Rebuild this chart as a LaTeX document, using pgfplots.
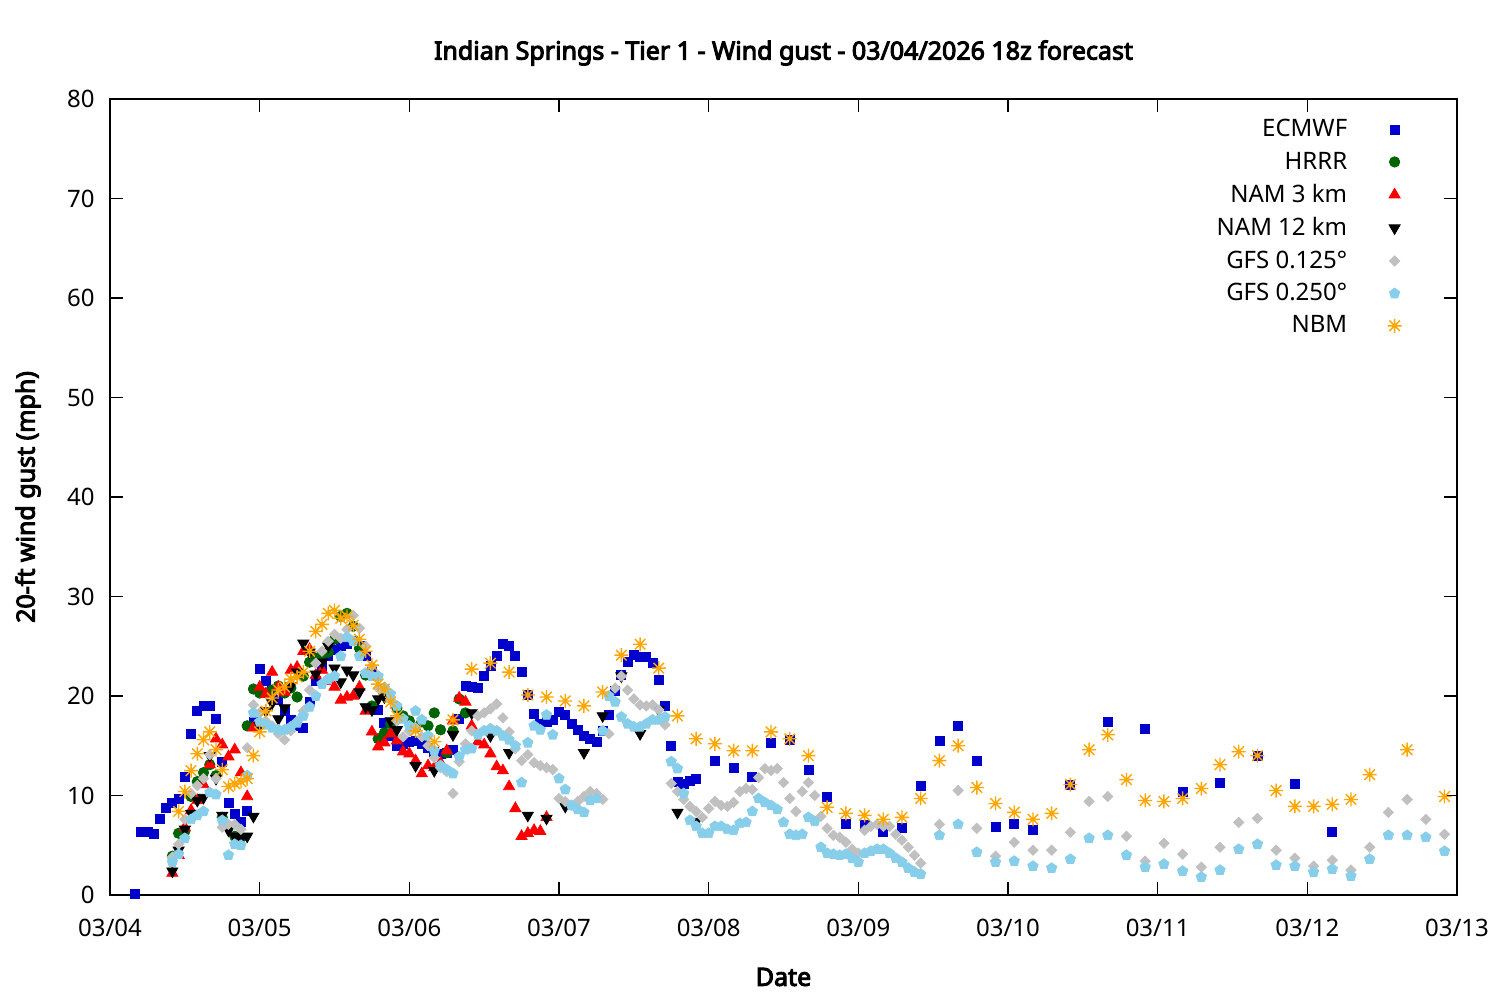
\documentclass[border=0pt]{standalone}
\usepackage{pgfplots}
\pgfplotsset{compat=1.18}
\usepackage{fontspec}
\setmainfont{Noto Sans}[AutoFakeBold=4]
\usetikzlibrary{plotmarks}

\definecolor{ecmwf}{RGB}{0,0,204}
\definecolor{hrrr}{RGB}{0,100,0}
\definecolor{namthree}{RGB}{255,0,0}
\definecolor{gfsa}{RGB}{192,192,192}
\definecolor{gfsb}{RGB}{135,206,235}
\definecolor{nbm}{RGB}{255,165,0}

% gnuplot-style star: + and x together
\pgfdeclareplotmark{gpstar}{%
  \pgfpathmoveto{\pgfqpoint{-\pgfplotmarksize}{0pt}}%
  \pgfpathlineto{\pgfqpoint{\pgfplotmarksize}{0pt}}%
  \pgfpathmoveto{\pgfqpoint{0pt}{-\pgfplotmarksize}}%
  \pgfpathlineto{\pgfqpoint{0pt}{\pgfplotmarksize}}%
  \pgfpathmoveto{\pgfqpoint{-.75\pgfplotmarksize}{-.75\pgfplotmarksize}}%
  \pgfpathlineto{\pgfqpoint{.75\pgfplotmarksize}{.75\pgfplotmarksize}}%
  \pgfpathmoveto{\pgfqpoint{-.75\pgfplotmarksize}{.75\pgfplotmarksize}}%
  \pgfpathlineto{\pgfqpoint{.75\pgfplotmarksize}{-.75\pgfplotmarksize}}%
  \pgfusepathqstroke}

\newcommand{\chartfont}{\fontsize{12}{14}\selectfont}
\newcommand{\labelfont}{\fontsize{12.5}{14}\selectfont\bfseries}

\begin{document}
\begin{tikzpicture}
\useasboundingbox (-55pt,-52.5pt) rectangle (695pt,447.5pt);
\begin{axis}[
    at={(0,0)}, anchor=south west,
    scale only axis, width=673.5pt, height=398pt,
    xmin=0, xmax=216, ymin=0, ymax=80,
    xtick={0,24,...,216},
    xticklabels={03/04,03/05,03/06,03/07,03/08,03/09,03/10,03/11,03/12,03/13},
    ytick={0,10,...,80},
    tick align=inside, major tick length=6.5pt,
    axis line style={line width=0.6pt}, every tick/.style={black, line width=0.6pt},
    /pgf/number format/assume math mode=true,
    ticklabel style={font=\chartfont},
    xticklabel style={anchor=center, yshift=-16.5pt, inner sep=0pt},
    yticklabel style={anchor=east, xshift=-7.5pt, inner sep=0pt},
    legend style={draw=none, fill=none, font=\chartfont, at={(1,1)},
      anchor=north east, xshift=-24.5pt, yshift=-6pt, row sep=2.05pt},
    legend cell align=right, legend plot pos=right,
    legend image code/.code={\path (0pt,0pt) (21.5pt,0pt);
      \draw[#1] plot coordinates {(21.5pt,0pt)};},
    only marks,
]
\addplot[mark=square*, mark size=2.25pt, color=ecmwf] coordinates {
(4,0.1) (5,6.3) (6,6.3) (7,6.1) (8,7.6) (9,8.8) (10,9.3) (11,9.7) (12,11.9) (13,16.2) (14,18.5) (15,19.0) (16,19.0) (17,17.7) (18,13.4) (19,9.3) (20,8.1) (21,7.3) (22,8.5) (23,17.4) (24,22.7) (25,21.5) (26,20.5) (27,19.6) (28,18.5) (29,17.6) (30,17.0) (31,16.8) (32,19.4) (33,21.5) (34,23.0) (35,24.0) (36,24.6) (37,25.0) (38,25.2) (39,25.5) (40,25.0) (41,24.0) (42,22.6) (43,18.6) (44,17.3) (45,16.0) (46,15.0) (47,15.2) (48,15.4) (49,15.5) (50,15.2) (51,14.8) (52,14.4) (53,14.2) (54,14.3) (55,14.6) (56,17.7) (57,21.0) (58,20.9) (59,20.8) (60,22.0) (61,23.0) (62,24.0) (63,25.2) (64,25.0) (65,24.0) (66,22.4) (67,20.1) (68,18.2) (69,17.2) (70,17.4) (71,17.6) (72,18.4) (73,18.1) (74,17.2) (75,16.6) (76,16.0) (77,15.7) (78,15.4) (79,16.5) (80,18.1) (81,20.5) (82,22.1) (83,23.4) (84,24.1) (85,23.9) (86,23.9) (87,23.3) (88,21.6) (89,19.0) (90,15.0) (91,11.4) (92,11.2) (93,11.5) (94,11.7) (97,13.5) (100,12.8) (103,11.9) (106,15.3) (109,15.6) (112,12.6) (115,9.9) (118,7.1) (121,7.0) (124,6.3) (127,6.7) (130,11.0) (133,15.5) (136,17.0) (139,13.5) (142,6.8) (145,7.1) (148,6.5) (154,11.1) (160,17.4) (166,16.7) (172,10.4) (178,11.3) (184,14.0) (190,11.2) (196,6.3)
};
\addlegendentry{ECMWF}
\addplot[mark=*, mark size=2.6pt, color=hrrr] coordinates {
(10,3.9) (11,6.2) (12,6.4) (13,9.9) (14,11.4) (15,12.3) (16,13.1) (17,12.0) (18,7.8) (19,6.9) (20,5.9) (21,5.8) (22,17.0) (23,20.7) (24,20.3) (25,20.3) (26,20.6) (27,21.0) (28,20.3) (29,20.8) (30,19.9) (31,22.0) (32,23.4) (33,23.8) (34,24.2) (35,24.4) (36,25.7) (37,28.0) (38,28.3) (39,27.0) (40,24.8) (41,22.1) (42,19.0) (43,15.7) (44,16.3) (45,17.2) (46,18.8) (47,18.0) (48,17.5) (49,16.8) (50,17.4) (51,17.0) (52,18.3) (53,16.6) (54,14.3) (55,16.5) (56,19.7) (57,18.3)
};
\addlegendentry{HRRR}
\addplot[mark=triangle*, mark size=3.2pt, color=namthree] coordinates {
(10,2.2) (11,4.0) (12,6.8) (13,8.5) (14,9.5) (15,11.1) (16,13.1) (17,15.7) (18,15.1) (19,13.9) (20,14.6) (21,12.3) (22,9.9) (23,16.8) (24,20.9) (25,20.2) (26,22.4) (27,20.9) (28,20.4) (29,22.6) (30,22.9) (31,24.5) (32,24.7) (33,22.1) (34,22.6) (35,21.5) (36,20.9) (37,19.6) (38,19.9) (39,20.0) (40,20.9) (41,18.5) (42,16.4) (43,14.9) (44,15.3) (45,16.2) (46,15.5) (47,14.4) (48,14.2) (49,13.5) (50,12.2) (51,13.0) (52,12.8) (53,13.3) (54,14.5) (55,17.5) (56,19.8) (57,19.4) (58,17.0) (59,15.4) (60,15.1) (61,14.2) (62,12.9) (63,12.5) (64,10.9) (65,8.7) (66,5.9) (67,6.2) (68,6.5) (69,6.4) (70,7.8)
};
\addlegendentry{NAM 3 km}
\addplot[mark=triangle*, mark size=3.2pt, mark options={rotate=180}, color=black] coordinates {
(10,2.4) (11,4.5) (12,6.6) (13,8.2) (14,9.5) (15,9.8) (16,14.0) (17,11.7) (18,8.0) (19,6.5) (20,5.9) (21,5.7) (22,5.9) (23,7.9) (24,17.0) (25,18.5) (26,19.3) (27,17.7) (28,18.8) (29,21.0) (30,22.4) (31,25.3) (32,24.4) (33,22.2) (34,23.4) (35,25.0) (36,22.8) (37,21.4) (38,22.6) (39,22.1) (40,20.4) (41,18.9) (42,18.6) (43,19.7) (44,19.9) (45,17.5) (46,16.6) (49,13.0) (52,12.5) (55,16.1) (58,18.3) (61,16.0) (64,14.3) (67,8.0) (70,7.7) (73,8.9) (76,14.3) (79,18.0) (82,22.0) (85,16.2) (88,18.6) (91,8.3) (94,7.4)
};
\addlegendentry{NAM 12 km}
\addplot[mark=square*, mark size=1.8pt, mark options={rotate=45}, color=gfsa] coordinates {
(10,3.8) (11,5.1) (12,7.6) (13,10.2) (14,11.0) (15,11.7) (16,14.1) (17,11.7) (18,6.8) (19,7.1) (20,7.1) (21,6.6) (22,14.8) (23,19.1) (24,18.3) (25,17.5) (26,17.0) (27,16.2) (28,15.6) (29,16.5) (30,17.5) (31,18.5) (32,20.6) (33,23.3) (34,24.5) (35,25.5) (36,26.2) (37,25.8) (38,26.7) (39,28.1) (40,26.8) (41,25.0) (42,23.0) (43,20.8) (44,20.9) (45,19.6) (46,17.5) (47,15.9) (48,16.5) (49,16.8) (50,15.9) (51,15.0) (52,13.8) (53,12.8) (54,12.4) (55,10.2) (56,13.4) (57,15.2) (58,16.5) (59,18.0) (60,18.3) (61,18.7) (62,19.2) (63,17.8) (64,16.4) (65,14.7) (66,13.5) (67,14.1) (68,13.3) (69,13.0) (70,12.8) (71,12.6) (72,9.7) (73,9.4) (74,9.0) (75,9.4) (76,9.9) (77,10.4) (78,10.2) (79,9.6) (80,16.2) (81,20.8) (82,22.0) (83,20.6) (84,19.7) (85,19.1) (86,19.0) (87,19.1) (88,18.6) (89,17.1) (90,11.2) (91,10.4) (92,9.6) (93,8.9) (94,8.4) (95,7.8) (96,8.7) (97,9.4) (98,9.0) (99,8.9) (100,9.3) (101,10.4) (102,10.7) (103,10.6) (104,11.8) (105,12.7) (106,12.5) (107,12.7) (108,11.3) (109,9.7) (110,8.4) (111,10.4) (112,11.3) (113,10.0) (114,7.9) (115,6.7) (116,6.0) (117,5.8) (118,5.3) (119,4.6) (120,4.2) (121,6.5) (122,6.9) (123,7.1) (124,6.9) (125,6.9) (126,6.1) (127,5.5) (128,4.8) (129,4.0) (130,3.2) (133,7.1) (136,10.5) (139,6.7) (142,3.9) (145,5.3) (148,4.5) (151,4.5) (154,6.3) (157,9.4) (160,9.9) (163,5.9) (166,3.4) (169,5.2) (172,4.1) (175,2.8) (178,4.8) (181,7.3) (184,7.7) (187,4.5) (190,3.7) (193,2.9) (196,3.5) (199,2.5) (202,4.8) (205,8.3) (208,9.6) (211,7.6) (214,6.1)
};
\addlegendentry{GFS 0.125°}
\addplot[mark=pentagon*, mark size=2.7pt, color=gfsb] coordinates {
(10,3.3) (11,4.1) (12,5.7) (13,7.6) (14,8.0) (15,8.4) (16,10.3) (17,10.1) (18,7.5) (19,4.0) (20,5.1) (21,5.0) (22,12.0) (23,18.3) (24,17.4) (25,17.1) (26,16.8) (27,16.6) (28,16.6) (29,16.9) (30,17.3) (31,18.0) (32,18.9) (33,20.0) (34,21.2) (35,21.7) (36,22.0) (37,24.0) (38,25.9) (39,25.5) (40,24.0) (41,22.3) (42,22.0) (43,22.0) (44,20.8) (45,20.2) (46,19.0) (47,17.7) (48,17.0) (49,18.5) (50,17.6) (51,16.0) (52,14.5) (53,13.0) (54,12.6) (55,12.2) (56,13.9) (57,14.6) (58,14.7) (59,16.1) (60,16.5) (61,16.7) (62,16.5) (63,16.0) (64,15.6) (65,15.0) (66,11.3) (67,15.3) (68,17.0) (69,16.6) (70,18.1) (71,16.1) (72,11.7) (73,10.6) (74,9.0) (75,8.6) (76,8.3) (77,9.5) (78,9.7) (79,16.5) (80,20.0) (81,19.4) (82,17.9) (83,17.2) (84,16.9) (85,16.9) (86,17.2) (87,17.6) (88,17.6) (89,17.9) (90,13.4) (91,12.7) (92,10.2) (93,7.5) (94,6.9) (95,6.2) (96,6.2) (97,6.9) (98,6.9) (99,6.6) (100,6.5) (101,7.2) (102,7.3) (103,8.4) (104,9.7) (105,9.3) (106,9.0) (107,8.6) (108,7.3) (109,6.1) (110,6.0) (111,6.1) (112,7.8) (113,7.4) (114,4.8) (115,4.2) (116,4.1) (117,4.0) (118,4.1) (119,3.7) (120,3.3) (121,4.2) (122,4.4) (123,4.6) (124,4.6) (125,4.2) (126,3.7) (127,3.3) (128,2.7) (129,2.3) (130,2.1) (133,6.0) (136,7.1) (139,4.3) (142,3.3) (145,3.4) (148,2.9) (151,2.7) (154,3.6) (157,5.7) (160,6.0) (163,4.0) (166,2.8) (169,3.1) (172,2.4) (175,1.8) (178,2.5) (181,4.6) (184,5.1) (187,3.0) (190,2.9) (193,2.3) (196,2.6) (199,1.9) (202,3.6) (205,6.0) (208,6.0) (211,5.8) (214,4.4)
};
\addlegendentry{GFS 0.250°}
\addplot[mark=gpstar, mark size=3.5pt, mark options={line width=0.7pt}, color=nbm] coordinates {
(11,8.4) (12,10.4) (13,12.5) (14,14.2) (15,15.6) (16,16.4) (17,14.6) (18,12.6) (19,10.9) (20,11.2) (21,11.4) (22,11.7) (23,14.0) (24,16.4) (25,18.5) (26,19.8) (27,20.6) (28,20.9) (29,21.7) (30,21.9) (31,22.4) (32,24.5) (33,26.5) (34,27.2) (35,28.3) (36,28.6) (37,27.8) (38,28.0) (39,27.1) (40,25.7) (41,24.5) (42,23.1) (43,21.2) (44,20.7) (45,19.4) (46,18.0) (49,16.5) (52,15.4) (55,17.6) (58,22.7) (61,23.3) (64,22.4) (67,20.1) (70,19.9) (73,19.5) (76,19.0) (79,20.4) (82,24.1) (85,25.2) (88,22.8) (91,18.0) (94,15.7) (97,15.2) (100,14.5) (103,14.5) (106,16.4) (109,15.7) (112,14.0) (115,8.8) (118,8.2) (121,8.0) (124,7.6) (127,7.8) (130,9.7) (133,13.5) (136,15.0) (139,10.8) (142,9.2) (145,8.3) (148,7.6) (151,8.2) (154,11.1) (157,14.6) (160,16.1) (163,11.6) (166,9.5) (169,9.4) (172,9.7) (175,10.7) (178,13.1) (181,14.4) (184,14.0) (187,10.5) (190,8.9) (193,8.9) (196,9.1) (199,9.6) (202,12.1) (208,14.6) (214,9.9)
};
\addlegendentry{NBM}
\end{axis}
\node[font=\labelfont] at (336.75pt,421pt) {Indian Springs - Tier 1 - Wind gust - 03/04/2026 18z forecast};
\node[font=\labelfont] at (336.75pt,-41pt) {Date};
\node[font=\labelfont, rotate=90] at (-41pt,199pt) {20-ft wind gust (mph)};
\end{tikzpicture}
\end{document}
